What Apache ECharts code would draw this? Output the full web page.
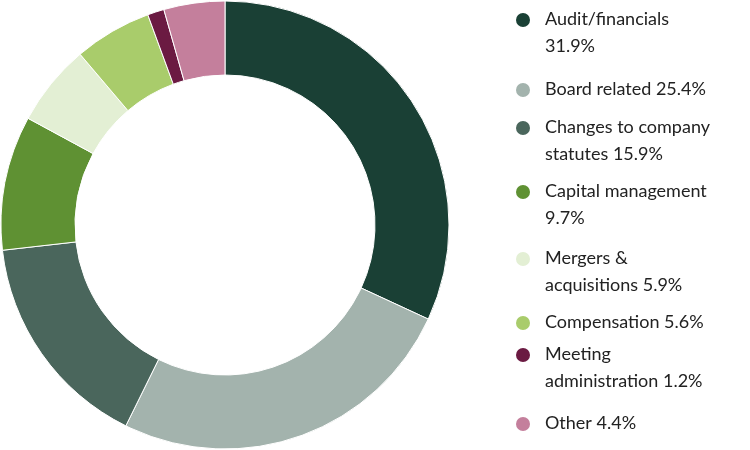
<!DOCTYPE html>
<html><head><meta charset="utf-8">
<script src="https://cdn.jsdelivr.net/npm/echarts@6/dist/echarts.min.js"></script>
<style>html,body{margin:0;padding:0;background:#fff}#c{width:750px;height:450px}</style>
</head><body><div id="c"></div>
<script>
const categories = ['Audit/financials', 'Board related', 'Changes to company statutes', 'Capital management',
  'Mergers & acquisitions', 'Compensation', 'Meeting administration', 'Other']
const values = [31.9, 25.4, 15.9, 9.7, 5.9, 5.6, 1.2, 4.4]
const legendLabels = ['Audit/financials\n31.9%', 'Board related 25.4%', 'Changes to company\nstatutes 15.9%',
  'Capital management\n9.7%', 'Mergers &\nacquisitions 5.9%', 'Compensation 5.6%',
  'Meeting\nadministration 1.2%', 'Other 4.4%']
const colors = ['#1a4035', '#a3b3ad', '#4a665c', '#5f9133', '#e3efd4', '#a9cc6b', '#6b1a42', '#c47f9c']
const legendY = [20, 90, 128, 192, 259, 323, 355, 424]

const chart = echarts.init(document.getElementById('c'))
const graphic = []
legendLabels.forEach((t, i) => {
  graphic.push({type: 'circle', shape: {cx: 523, cy: legendY[i], r: 7}, style: {fill: colors[i]}})
  graphic.push({type: 'text', x: 545, y: legendY[i] - 14, style: {text: t, fill: '#222', font: '18px Lato', lineHeight: 27}})
})
chart.setOption({
  color: colors,
  graphic: graphic,
  series: [{
    type: 'pie',
    center: [225, 225],
    radius: [150, 224],
    startAngle: 90,
    label: {show: false},
    itemStyle: {borderColor: '#fff', borderWidth: 1},
    data: categories.map((c, i) => ({name: c, value: values[i]}))
  }]
})
</script></body></html>
